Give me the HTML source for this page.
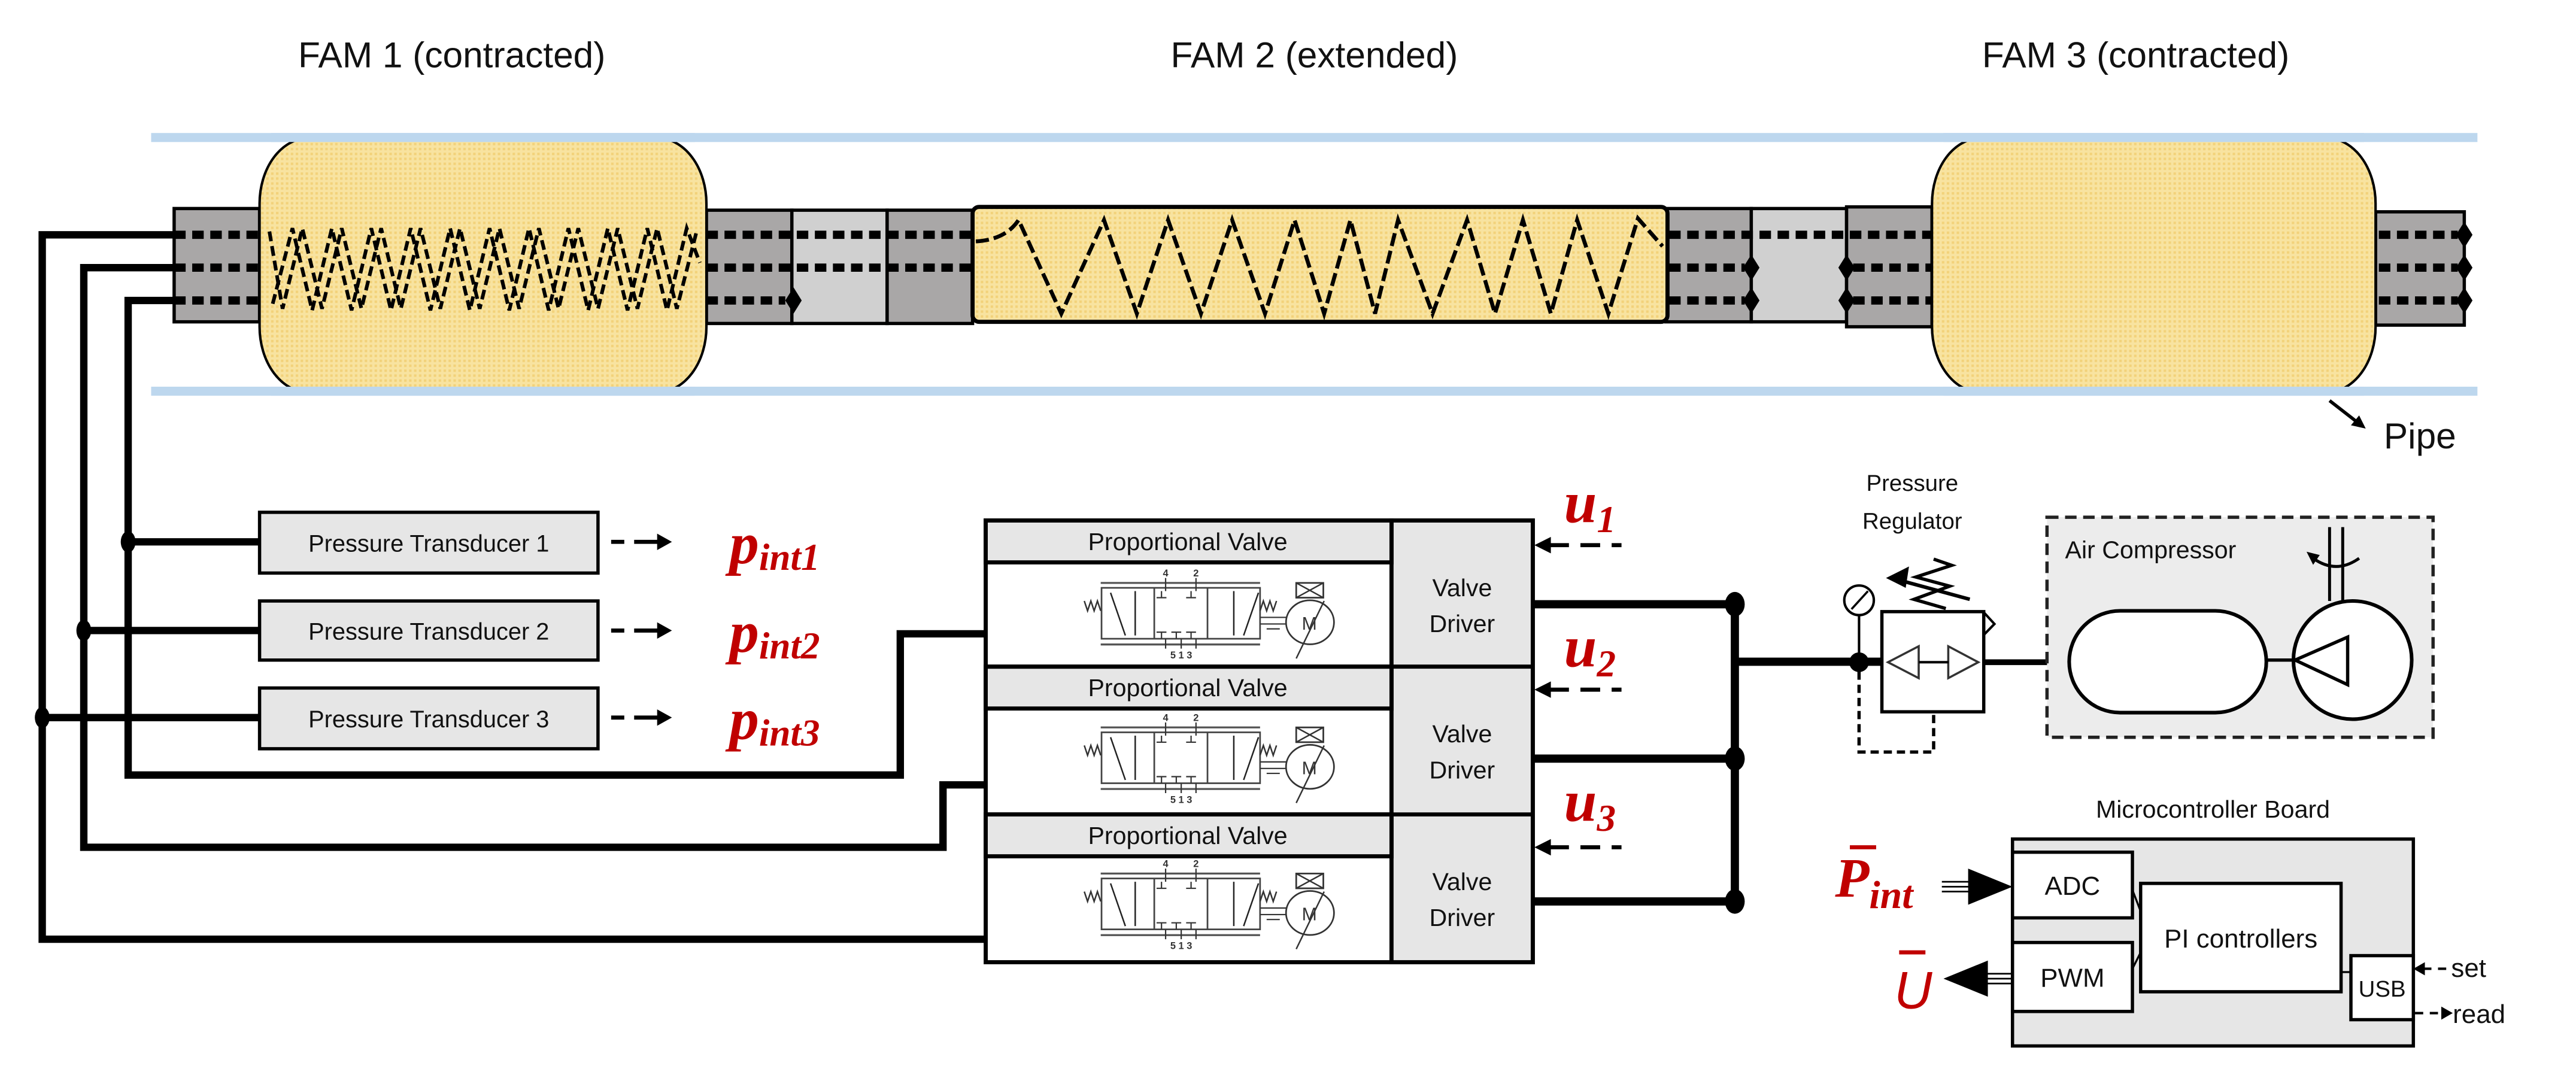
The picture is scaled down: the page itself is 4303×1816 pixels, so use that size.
<!DOCTYPE html>
<html><head><meta charset="utf-8"><style>
html,body{margin:0;padding:0;background:#fff;}
svg{display:block;}
text{font-family:"Liberation Sans",sans-serif;}
.m{font-family:"Liberation Serif",serif;font-style:italic;font-weight:bold;fill:#c00000;}
</style></head><body>
<svg width="4303" height="1816" viewBox="0 0 1568 662" preserveAspectRatio="none" xmlns="http://www.w3.org/2000/svg">
<defs>
<pattern id="dots" width="3" height="3" patternUnits="userSpaceOnUse">
<rect width="3" height="3" fill="#f8e3a0"/><rect width="1.5" height="1.5" fill="#f2d27a"/>
</pattern>
<g id="valve">
<line x1="670" y1="39" x2="767" y2="39" stroke="#555" stroke-width="1.2"/>
<line x1="670" y1="76.5" x2="767" y2="76.5" stroke="#555" stroke-width="1.2"/>
<rect x="670.5" y="42" width="96.5" height="31" fill="none" stroke="#444" stroke-width="1"/>
<line x1="702.6" y1="42" x2="702.6" y2="73" stroke="#444" stroke-width="1"/>
<line x1="735" y1="42" x2="735" y2="73" stroke="#444" stroke-width="1"/>
<path d="M676 45 L685 71 M691 44 L691 71 M751 44 L751 71 M757 71 L766 45" stroke="#222" stroke-width="0.9" fill="none"/>
<path d="M707 44 v4 M704 48 h6 M725 44 v4 M722 48 h6 M707 73 v-4 M704 69 h6 M716 73 v-4 M713 69 h6 M725 73 v-4 M722 69 h6" stroke="#333" stroke-width="0.8"/>
<path d="M709.5 36 v8 M728 36 v8 M709.5 73 v6 M719 73 v6 M728 73 v6" stroke="#333" stroke-width="0.8"/>
<text x="709.5" y="35" font-size="6" text-anchor="middle" fill="#333" font-weight="bold">4</text>
<text x="728" y="35" font-size="6" text-anchor="middle" fill="#333" font-weight="bold">2</text>
<text x="719" y="85" font-size="6" text-anchor="middle" fill="#333" font-weight="bold">5 1 3</text>
<path d="M660 50 l2 6 l2 -6 l2 6 l2 -6 l2 6" stroke="#333" stroke-width="0.9" fill="none"/>
<path d="M767 56 l2 -6 l2 6 l2 -6 l2 6 l2 -6" stroke="#333" stroke-width="0.9" fill="none"/>
<path d="M767 60 h16 M767 64 h16 M771 67 h8" stroke="#333" stroke-width="0.8"/>
<ellipse cx="797.4" cy="63" rx="14.6" ry="13.4" fill="#fff" stroke="#333" stroke-width="1"/>
<text x="797" y="67.5" font-size="11" text-anchor="middle" fill="#333">M</text>
<line x1="789" y1="85" x2="806" y2="50" stroke="#333" stroke-width="0.9"/>
<rect x="789" y="39" width="16.5" height="9" fill="#fff" stroke="#333" stroke-width="1"/>
<path d="M789 39 L805.5 48 M805.5 39 L789 48" stroke="#333" stroke-width="0.9"/>
</g>
</defs>

<!-- titles -->
<text x="275" y="41" font-size="22" text-anchor="middle" fill="#111">FAM 1 (contracted)</text>
<text x="800" y="41" font-size="22" text-anchor="middle" fill="#111">FAM 2 (extended)</text>
<text x="1300" y="41" font-size="22" text-anchor="middle" fill="#111">FAM 3 (contracted)</text>

<!-- pipe -->
<rect x="92" y="81" width="1416" height="5.5" fill="#bdd7ee"/>
<rect x="92" y="235.5" width="1416" height="5.5" fill="#bdd7ee"/>

<!-- gray blocks -->
<g stroke="#000" stroke-width="2">
<rect x="106" y="127" width="52" height="69" fill="#a9a7a7"/>
<rect x="430" y="128" width="52" height="69" fill="#a9a7a7"/>
<rect x="482" y="128" width="58" height="69" fill="#d0d0d0"/>
<rect x="540" y="128" width="52" height="69" fill="#a9a7a7"/>
<rect x="1014" y="127" width="52" height="69" fill="#a9a7a7"/>
<rect x="1066" y="127" width="58" height="69" fill="#d0d0d0"/>
<rect x="1124" y="126" width="52" height="73" fill="#a9a7a7"/>
<rect x="1446" y="129" width="54" height="69" fill="#a9a7a7"/>
</g>

<!-- FAMs -->
<rect x="158" y="84" width="272" height="155" rx="30" ry="40" fill="url(#dots)" stroke="#000" stroke-width="1.5"/>
<rect x="592" y="126" width="423" height="70" rx="4" fill="url(#dots)" stroke="#000" stroke-width="2.5"/>
<rect x="1176" y="84" width="270" height="155" rx="30" ry="40" fill="url(#dots)" stroke="#000" stroke-width="1.5"/>
<rect x="165" y="81" width="258" height="5.5" fill="#bdd7ee"/>
<rect x="165" y="235.5" width="258" height="5.5" fill="#bdd7ee"/>
<rect x="1183" y="81" width="256" height="5.5" fill="#bdd7ee"/>
<rect x="1183" y="235.5" width="256" height="5.5" fill="#bdd7ee"/>

<!-- dashed tubes -->
<g stroke="#000" stroke-width="5" stroke-dasharray="7 4" fill="none">
<line x1="106" y1="143" x2="158" y2="143"/>
<line x1="106" y1="163" x2="158" y2="163"/>
<line x1="106" y1="183" x2="158" y2="183"/>
<line x1="430" y1="143" x2="592" y2="143"/>
<line x1="430" y1="163" x2="592" y2="163"/>
<line x1="430" y1="183" x2="478" y2="183"/>
<line x1="1016" y1="143" x2="1176" y2="143"/>
<line x1="1016" y1="163" x2="1062" y2="163"/>
<line x1="1016" y1="183" x2="1062" y2="183"/>
<line x1="1128" y1="163" x2="1176" y2="163"/>
<line x1="1128" y1="183" x2="1176" y2="183"/>
<line x1="1448" y1="143" x2="1496" y2="143"/>
<line x1="1448" y1="163" x2="1496" y2="163"/>
<line x1="1448" y1="183" x2="1496" y2="183"/>
</g>
<g fill="#000">
<path d="M478 183 l5 -8 l5 8 l-5 8z"/>
<path d="M1061 163 l5 -8 l5 8 l-5 8z M1061 183 l5 -8 l5 8 l-5 8z"/>
<path d="M1119 163 l5 -8 l5 8 l-5 8z M1119 183 l5 -8 l5 8 l-5 8z"/>
<path d="M1495 143 l5 -8 l5 8 l-5 8z M1495 163 l5 -8 l5 8 l-5 8z M1495 183 l5 -8 l5 8 l-5 8z"/>
</g>

<!-- FAM1 coil -->
<g stroke="#000" stroke-width="2.2" stroke-dasharray="6 3" fill="none">
<path d="M164 141 L172 188 L184 139 L196 188 L208 139 L220 188 L232 139 L244 188 L256 139 L268 188 L280 139 L292 188 L304 139 L316 188 L328 139 L340 188 L352 139 L364 188 L376 139 L388 188 L400 139 L412 188 L424 141"/>
<path d="M166 185 L178 139 L190 189 L202 139 L214 189 L226 139 L238 189 L250 139 L262 189 L274 139 L286 189 L298 139 L310 189 L322 139 L334 189 L346 139 L358 189 L370 139 L382 189 L394 139 L406 189 L418 139 L426 160"/>
</g>
<!-- FAM2 coil -->
<path d="M594 147 Q612 146 620 134 L646 191 L672 134 L692 191 L711 134 L731 191 L750 134 L770 191 L788 134 L806 191 L822 134 L837 191 L851 134 L872 191 L893 134 L910 191 L927 134 L944 191 L960 134 L979 191 L997 133 L1012 150" stroke="#000" stroke-width="2.4" stroke-dasharray="8 3" fill="none"/>

<!-- left solid tubes -->
<g stroke="#000" stroke-width="4.5" fill="none" stroke-linejoin="miter">
<path d="M106 143 H25.7 V572 H600"/>
<path d="M106 163 H51 V516 H574 V478 H600"/>
<path d="M106 183 H78 V472 H548 V386 H600"/>
<path d="M78 330 H158"/>
<path d="M51 384 H158"/>
<path d="M25.7 437 H158"/>
</g>
<g fill="#000">
<ellipse cx="78" cy="330" rx="4.5" ry="6.5"/>
<ellipse cx="51" cy="384" rx="4.5" ry="6.5"/>
<ellipse cx="25.7" cy="437" rx="4.5" ry="6.5"/>
</g>

<!-- transducers -->
<g fill="#e6e6e6" stroke="#000" stroke-width="2">
<rect x="158" y="312" width="206" height="37"/>
<rect x="158" y="366" width="206" height="36"/>
<rect x="158" y="419" width="206" height="37"/>
</g>
<g font-size="14.5" fill="#111" text-anchor="middle">
<text x="261" y="336">Pressure Transducer 1</text>
<text x="261" y="389.5">Pressure Transducer 2</text>
<text x="261" y="443">Pressure Transducer 3</text>
</g>
<g stroke="#000" stroke-width="2.5">
<path d="M372 330 h8 M386 330 h16 M372 384 h8 M386 384 h16 M372 437 h8 M386 437 h16"/>
</g>
<g fill="#000">
<path d="M400 325 l9 5 l-9 5z M400 379 l9 5 l-9 5z M400 432 l9 5 l-9 5z"/>
</g>
<text class="m" x="444" y="343" font-size="36">p<tspan font-size="23" dy="4">int1</tspan></text>
<text class="m" x="444" y="397" font-size="36">p<tspan font-size="23" dy="4">int2</tspan></text>
<text class="m" x="444" y="450" font-size="36">p<tspan font-size="23" dy="4">int3</tspan></text>

<!-- valves -->
<rect x="600" y="317" width="333" height="269" fill="#fff" stroke="#000" stroke-width="2.5"/>
<rect x="847" y="317" width="86" height="269" fill="#e6e6e6" stroke="#000" stroke-width="2.5"/>
<g fill="#e6e6e6" stroke="#000" stroke-width="2.5">
<rect x="600" y="317" width="247" height="25.5"/>
<rect x="600" y="406" width="247" height="25.5"/>
<rect x="600" y="496" width="247" height="25.5"/>
</g>
<line x1="600" y1="406" x2="933" y2="406" stroke="#000" stroke-width="2.5"/>
<line x1="600" y1="496" x2="933" y2="496" stroke="#000" stroke-width="2.5"/>
<g font-size="15" fill="#111" text-anchor="middle">
<text x="723" y="335">Proportional Valve</text>
<text x="723" y="424">Proportional Valve</text>
<text x="723" y="514">Proportional Valve</text>
<text x="890" y="363">Valve</text><text x="890" y="385">Driver</text>
<text x="890" y="452">Valve</text><text x="890" y="474">Driver</text>
<text x="890" y="542">Valve</text><text x="890" y="564">Driver</text>
</g>
<use href="#valve" x="0" y="316"/>
<use href="#valve" x="0" y="404"/>
<use href="#valve" x="0" y="493"/>

<!-- u inputs -->
<text class="m" x="952" y="318" font-size="36">u<tspan font-size="23" dy="6">1</tspan></text>
<text class="m" x="952" y="406" font-size="36">u<tspan font-size="23" dy="6">2</tspan></text>
<text class="m" x="952" y="500" font-size="36">u<tspan font-size="23" dy="6">3</tspan></text>
<g stroke="#000" stroke-width="2.5"><path d="M943 332 h12 M962 332 h12 M981 332 h6 M943 420 h12 M962 420 h12 M981 420 h6 M943 516 h12 M962 516 h12 M981 516 h6"/></g>
<g fill="#000"><path d="M934 332 l10 -5 v10z M934 420 l10 -5 v10z M934 516 l10 -5 v10z"/></g>

<!-- driver outputs & bus -->
<g stroke="#000" stroke-width="5" fill="none">
<path d="M933 368 H1056 M933 462 H1056 M933 549 H1056 M1056 368 V549 M1056 403 H1145"/>
</g>
<g fill="#000">
<ellipse cx="1056" cy="368" rx="6" ry="7.5"/>
<ellipse cx="1056" cy="462" rx="6" ry="7.5"/>
<ellipse cx="1056" cy="549" rx="6" ry="7.5"/>
</g>

<!-- pressure regulator -->
<text x="1164" y="299" font-size="14" text-anchor="middle" fill="#111">Pressure</text>
<text x="1164" y="322" font-size="14" text-anchor="middle" fill="#111">Regulator</text>
<rect x="1145.5" y="372.5" width="62" height="61" fill="#fff" stroke="#000" stroke-width="2"/>
<circle cx="1131.6" cy="403.3" r="6" fill="#000"/>
<line x1="1131.6" y1="375" x2="1131.6" y2="403" stroke="#000" stroke-width="1.5"/>
<circle cx="1131.6" cy="365.6" r="9" fill="#fff" stroke="#000" stroke-width="1.5"/>
<line x1="1127" y1="371" x2="1137" y2="360" stroke="#000" stroke-width="1.3"/>
<path d="M1131.6 409 V458 H1177 V434" stroke="#000" stroke-width="2" stroke-dasharray="5 3" fill="none"/>
<path d="M1149.2 403.3 L1167.9 393.6 V413z M1185.9 393.6 V413 L1204.2 403.3z" fill="#fff" stroke="#333" stroke-width="1.3"/>
<line x1="1168" y1="403.3" x2="1186" y2="403.3" stroke="#000" stroke-width="1.5"/>
<path d="M1184.4 370.6 L1165 365 L1186.8 357 L1166.2 351.4 L1188 344.3 L1177 340.5" stroke="#000" stroke-width="2" fill="none"/>
<line x1="1199" y1="365" x2="1155" y2="353" stroke="#000" stroke-width="2.2"/>
<path d="M1148 352 L1162 345 L1160 358z" fill="#000"/>
<path d="M1207.4 372.8 L1214 380 L1207.4 386.8" fill="none" stroke="#000" stroke-width="1.5"/>
<line x1="1207.4" y1="403.3" x2="1259" y2="403.3" stroke="#000" stroke-width="3.5"/>

<!-- compressor -->
<rect x="1246" y="315" width="235" height="134" fill="#ececec" stroke="#222" stroke-width="2" stroke-dasharray="7 4"/>
<text x="1257" y="340" font-size="15" fill="#111">Air Compressor</text>
<rect x="1259.5" y="372" width="120" height="62" rx="31" fill="#fff" stroke="#000" stroke-width="2.2"/>
<line x1="1379.5" y1="402" x2="1395" y2="402" stroke="#000" stroke-width="2"/>
<circle cx="1432" cy="402" r="36" fill="#fff" stroke="#000" stroke-width="2.2"/>
<path d="M1397 402 L1429 388 V417z" fill="#fff" stroke="#000" stroke-width="2"/>
<path d="M1418 366 V321 M1426 366 V321" stroke="#000" stroke-width="1.8"/>
<path d="M1408 340 Q1422 350 1436 340" stroke="#000" stroke-width="1.8" fill="none"/>
<path d="M1404 336 l8 2 l-4 6z" fill="#000"/>

<!-- pipe label -->
<line x1="1418" y1="244" x2="1436" y2="258" stroke="#000" stroke-width="2"/>
<path d="M1440 261 l-9 -2 l5 -6z" fill="#000"/>
<text x="1451" y="273" font-size="22" fill="#111">Pipe</text>

<!-- microcontroller -->
<text x="1347" y="498" font-size="15" text-anchor="middle" fill="#111">Microcontroller Board</text>
<rect x="1225" y="511" width="244" height="126" fill="#e6e6e6" stroke="#000" stroke-width="2"/>
<rect x="1225" y="519" width="73" height="40" fill="#fff" stroke="#000" stroke-width="2"/>
<rect x="1225" y="574" width="73" height="42" fill="#fff" stroke="#000" stroke-width="2"/>
<rect x="1303" y="538" width="122" height="66" fill="#fff" stroke="#000" stroke-width="2"/>
<rect x="1431" y="582" width="38" height="39" fill="#fff" stroke="#000" stroke-width="2"/>
<path d="M1298 542 L1303 555 M1298 590 L1303 580 M1425 592 H1431" stroke="#000" stroke-width="1.2"/>
<text x="1261.5" y="545" font-size="16" text-anchor="middle" fill="#111">ADC</text>
<text x="1261.5" y="601" font-size="16" text-anchor="middle" fill="#111">PWM</text>
<text x="1364" y="577" font-size="16" text-anchor="middle" fill="#111">PI controllers</text>
<text x="1450" y="607" font-size="14" text-anchor="middle" fill="#111">USB</text>
<text class="m" x="1117" y="546" font-size="34">P<tspan font-size="24" dy="7">int</tspan></text>
<line x1="1126" y1="516" x2="1142" y2="516" stroke="#c00000" stroke-width="2.5"/>
<text x="1153" y="614" font-size="32" fill="#c00000" font-family="Liberation Serif,serif" font-style="italic">U</text>
<line x1="1156" y1="580" x2="1172" y2="580" stroke="#c00000" stroke-width="2.5"/>
<path d="M1182 537 H1203 M1182 540 H1203 M1182 543 H1203" stroke="#000" stroke-width="1"/>
<path d="M1198 529 L1225 540 L1198 551z" fill="#000"/>
<path d="M1203 593 H1225 M1203 596 H1225 M1203 599 H1225" stroke="#000" stroke-width="1"/>
<path d="M1183 596 L1210 585 L1210 607z" fill="#000"/>
<path d="M1475 590 h5 M1484 590 h5" stroke="#000" stroke-width="1.5"/>
<path d="M1469 590 l7 -4 v8z" fill="#000"/>
<text x="1492" y="595" font-size="16" fill="#111">set</text>
<path d="M1470 617 h5 M1479 617 h5" stroke="#000" stroke-width="1.5"/>
<path d="M1486 613 l7 4 l-7 4z" fill="#000"/>
<text x="1493" y="623" font-size="16" fill="#111">read</text>
</svg>
</body></html>
